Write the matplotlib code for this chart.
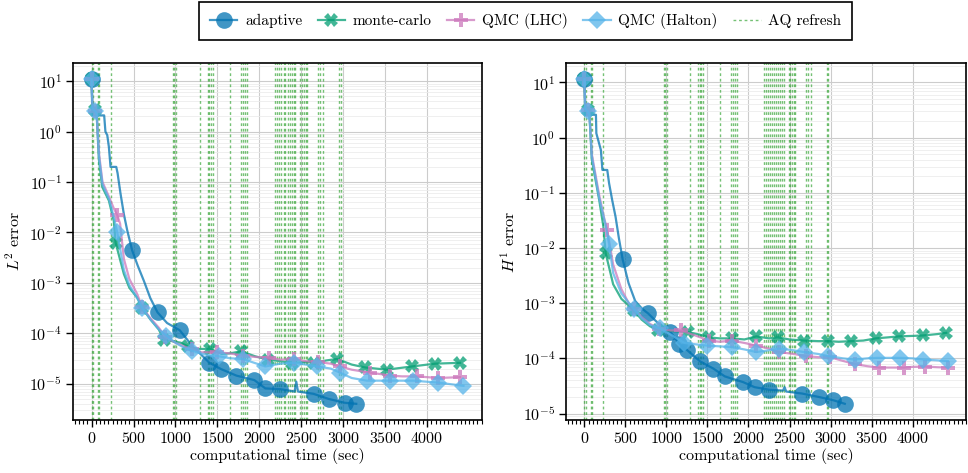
import numpy as np
import matplotlib
matplotlib.use("Agg")
import matplotlib.pyplot as plt
from matplotlib.ticker import MultipleLocator, FixedLocator, LogLocator, NullFormatter

plt.rcParams["font.family"] = "serif"
plt.rcParams["font.serif"] = ["cmr10"]
plt.rcParams["mathtext.fontset"] = "cm"
plt.rcParams["axes.formatter.use_mathtext"] = True
plt.rcParams["font.size"] = 11.5

# ---------------- L2 error (left) ----------------
l2_ad_t = [0, 8, 15, 150, 165, 187, 206, 226, 294, 310, 325, 345, 385, 425, 484, 550, 623, 700, 786, 900,
           1051, 1200, 1405, 1544, 1726, 1940, 2070, 2250, 2420, 2440, 2460, 2647, 2825, 3015, 3155]
l2_ad_e = [11, 2.6, 2.1, 2.1, 1.0, 0.85, 0.5, 0.2, 0.2, 0.15, 0.1, 0.059, 0.023, 0.011, 4.4e-3, 2.2e-3,
           1.1e-3, 5.0e-4, 2.6e-4, 1.6e-4, 1.15e-4, 5.6e-5, 2.6e-5, 1.95e-5, 1.45e-5, 1.18e-5, 8.1e-6,
           7.8e-6, 7.0e-6, 1.1e-5, 7.0e-6, 6.3e-6, 5.0e-6, 4.2e-6, 4.0e-6]
l2_ad_m = [0, 484, 786, 1051, 1405, 1544, 1726, 1940, 2070, 2250, 2647, 2825, 3015, 3155]

l2_mc_t = [0, 10, 40, 60, 87, 127, 206, 265, 286, 385, 450, 544, 603, 700, 800, 861, 960, 1060, 1150,
           1258, 1417, 1550, 1650, 1780, 1950, 2100, 2250, 2389, 2550, 2650, 2800, 2925, 3100, 3262,
           3520, 3818, 4095, 4393]
l2_mc_e = [11, 3.0, 2.7, 2.3, 0.28, 0.08, 0.043, 0.017, 6.3e-3, 1.5e-3, 8.0e-4, 5.1e-4, 3.2e-4, 1.9e-4,
           1.2e-4, 7.5e-5, 7.0e-5, 6.5e-5, 5.5e-5, 4.9e-5, 4.9e-5, 3.9e-5, 4.0e-5, 4.4e-5, 3.5e-5,
           3.0e-5, 2.8e-5, 2.6e-5, 2.7e-5, 2.6e-5, 2.9e-5, 3.1e-5, 2.4e-5, 2.1e-5, 1.9e-5, 2.2e-5,
           2.5e-5, 2.6e-5]
l2_mc_m = [0, 40, 286, 603, 861, 1150, 1417, 1780, 2100, 2389, 2650, 2925, 3262, 3520, 3818, 4095, 4393]

l2_lhc_t = [0, 10, 40, 60, 90, 130, 210, 265, 306, 340, 385, 450, 544, 603, 700, 800, 880, 1000, 1100,
            1198, 1300, 1400, 1500, 1650, 1800, 1950, 2111, 2250, 2409, 2550, 2700, 2850, 2960, 3100,
            3321, 3450, 3560, 3700, 3877, 4000, 4135, 4393]
l2_lhc_e = [11, 3.0, 2.6, 2.4, 0.35, 0.1, 0.05, 0.03, 0.022, 0.015, 3.0e-3, 1.2e-3, 6.0e-4, 3.3e-4,
            2.0e-4, 1.3e-4, 8.5e-5, 6.5e-5, 5.5e-5, 4.8e-5, 4.2e-5, 4.2e-5, 4.2e-5, 4.0e-5, 3.6e-5,
            3.4e-5, 3.3e-5, 3.0e-5, 3.1e-5, 2.8e-5, 2.7e-5, 2.5e-5, 2.2e-5, 1.9e-5, 1.65e-5, 1.55e-5,
            1.45e-5, 1.4e-5, 1.4e-5, 1.35e-5, 1.3e-5, 1.35e-5]
l2_lhc_m = [0, 40, 306, 603, 880, 1198, 1500, 1800, 2111, 2409, 2700, 2960, 3321, 3560, 3877, 4135, 4393]

l2_hal_t = [0, 10, 40, 60, 90, 130, 210, 265, 306, 385, 450, 544, 603, 700, 800, 893, 1000, 1100, 1198,
            1350, 1516, 1650, 1800, 2071, 2250, 2409, 2550, 2687, 2850, 2964, 3100, 3282, 3560, 3837,
            4135, 4433]
l2_hal_e = [11, 2.8, 2.6, 2.3, 0.3, 0.09, 0.045, 0.02, 0.01, 1.8e-3, 9.0e-4, 5.0e-4, 3.2e-4, 1.9e-4,
            1.2e-4, 9.0e-5, 6.5e-5, 5.2e-5, 4.5e-5, 3.8e-5, 3.5e-5, 3.2e-5, 3.1e-5, 2.2e-5, 2.5e-5,
            2.6e-5, 2.4e-5, 2.2e-5, 2.0e-5, 1.65e-5, 1.3e-5, 1.15e-5, 1.15e-5, 1.15e-5, 1.05e-5, 9.1e-6]
l2_hal_m = [0, 40, 306, 603, 893, 1198, 1516, 1800, 2071, 2409, 2687, 2964, 3282, 3560, 3837, 4135, 4433]

# ---------------- H1 error (right) ----------------
h1_ad_t = [0, 8, 15, 140, 145, 200, 219, 278, 300, 338, 379, 420, 466, 538, 618, 700, 777, 900, 1048,
           1156, 1254, 1406, 1573, 1712, 1936, 2075, 2255, 2420, 2440, 2460, 2655, 2854, 3034, 3174]
h1_ad_e = [11.5, 3.0, 2.6, 2.6, 1.2, 0.6, 0.26, 0.26, 0.15, 0.074, 0.037, 0.015, 6.2e-3, 2.3e-3, 1.1e-3,
           8.0e-4, 6.5e-4, 4.3e-4, 3.0e-4, 1.85e-4, 1.4e-4, 8.9e-5, 6.5e-5, 4.7e-5, 3.7e-5, 3.0e-5,
           2.7e-5, 2.6e-5, 3.0e-5, 2.5e-5, 2.3e-5, 2.0e-5, 1.74e-5, 1.5e-5]
h1_ad_m = [0, 466, 777, 1048, 1156, 1254, 1406, 1573, 1712, 1936, 2075, 2255, 2655, 2854, 3034, 3174]

h1_mc_t = [0, 10, 40, 60, 90, 180, 230, 259, 350, 450, 599, 700, 800, 900, 1000, 1100, 1257, 1400, 1517,
           1650, 1796, 1950, 2096, 2250, 2355, 2500, 2674, 2850, 2974, 3100, 3254, 3400, 3553, 3700,
           3832, 4000, 4132, 4300, 4411]
h1_mc_e = [11.5, 3.5, 3.2, 2.8, 0.4, 0.074, 0.025, 8.0e-3, 2.2e-3, 1.2e-3, 7.5e-4, 5.0e-4, 3.8e-4,
           3.3e-4, 3.2e-4, 3.1e-4, 3.0e-4, 2.7e-4, 2.4e-4, 2.3e-4, 2.3e-4, 2.2e-4, 2.5e-4, 2.3e-4,
           2.4e-4, 2.2e-4, 2.1e-4, 2.05e-4, 2.05e-4, 2.0e-4, 2.05e-4, 2.1e-4, 2.3e-4, 2.4e-4, 2.5e-4,
           2.55e-4, 2.6e-4, 2.75e-4, 2.9e-4]
h1_mc_m = [0, 40, 259, 599, 900, 1257, 1517, 1796, 2096, 2355, 2674, 2974, 3254, 3553, 3832, 4132, 4411]

h1_lhc_t = [0, 10, 40, 60, 90, 180, 240, 278, 350, 450, 540, 610, 700, 800, 910, 1050, 1177, 1350, 1517,
            1650, 1796, 1950, 2096, 2250, 2375, 2550, 2695, 2850, 2994, 3150, 3293, 3450, 3593, 3750,
            3892, 4000, 4152, 4300, 4431]
h1_lhc_e = [11.5, 3.5, 3.2, 2.8, 0.5, 0.09, 0.035, 0.021, 5.0e-3, 1.8e-3, 1.0e-3, 7.8e-4, 5.5e-4,
            4.2e-4, 3.4e-4, 3.2e-4, 3.2e-4, 2.6e-4, 2.1e-4, 2.0e-4, 2.1e-4, 1.9e-4, 1.7e-4, 1.5e-4,
            1.3e-4, 1.2e-4, 1.1e-4, 1.05e-4, 1.05e-4, 9.0e-5, 7.9e-5, 7.2e-5, 6.8e-5, 6.8e-5, 6.8e-5,
            7.0e-5, 7.1e-5, 6.9e-5, 6.8e-5]
h1_lhc_m = [0, 40, 278, 610, 910, 1177, 1517, 1796, 2096, 2375, 2695, 2994, 3293, 3593, 3892, 4152, 4431]

h1_hal_t = [0, 10, 40, 60, 90, 180, 260, 299, 350, 450, 599, 700, 800, 918, 1050, 1218, 1350, 1497,
            1650, 1796, 1950, 2096, 2250, 2375, 2550, 2674, 2850, 2974, 3150, 3293, 3450, 3572, 3700,
            3852, 4000, 4132, 4300, 4431]
h1_hal_e = [11.5, 3.3, 3.0, 2.6, 0.45, 0.08, 0.025, 0.012, 3.5e-3, 1.5e-3, 7.9e-4, 5.3e-4, 4.0e-4,
            3.5e-4, 2.7e-4, 1.9e-4, 1.8e-4, 1.7e-4, 1.65e-4, 1.6e-4, 1.45e-4, 1.3e-4, 1.4e-4, 1.5e-4,
            1.4e-4, 1.3e-4, 1.2e-4, 1.1e-4, 1.0e-4, 9.5e-5, 1.0e-4, 1.02e-4, 1.02e-4, 1.02e-4, 1.0e-4,
            9.5e-5, 9.2e-5, 8.9e-5]
h1_hal_m = [0, 40, 299, 599, 918, 1218, 1497, 1796, 2096, 2375, 2674, 2974, 3293, 3572, 3852, 4132, 4431]

# times at which the adaptive quadrature was refreshed
aq_refresh = [0, 20, 75, 90, 226, 968, 988, 1008, 1290, 1385, 1405, 1425, 1444, 1647, 1786, 1810, 1833,
              1855, 2190, 2210, 2235, 2260, 2290, 2310, 2340, 2365, 2390, 2410, 2430, 2490, 2510, 2530,
              2550, 2570, 2700, 2720, 2760, 2955, 2975]

xticks = [0, 500, 1000, 1500, 2000, 2500, 3000, 3500, 4000]

names = ["adaptive", "monte-carlo", "QMC (LHC)", "QMC (Halton)"]
colors = ["#0173b2", "#029e73", "#cc78bc", "#56b4e9"]
markers = ["o", "X", "P", "D"]
msizes = [12, 10, 10, 9]

l2_runs = [(l2_ad_t, l2_ad_e, l2_ad_m), (l2_mc_t, l2_mc_e, l2_mc_m),
           (l2_lhc_t, l2_lhc_e, l2_lhc_m), (l2_hal_t, l2_hal_e, l2_hal_m)]
h1_runs = [(h1_ad_t, h1_ad_e, h1_ad_m), (h1_mc_t, h1_mc_e, h1_mc_m),
           (h1_lhc_t, h1_lhc_e, h1_lhc_m), (h1_hal_t, h1_hal_e, h1_hal_m)]

fig = plt.figure(figsize=(9.68, 4.73), dpi=100)
ax1 = fig.add_axes([0.0754, 0.112, 0.4226, 0.755])
ax2 = fig.add_axes([0.585, 0.112, 0.413, 0.755])


def draw(ax, runs, ylabel):
    for i, x in enumerate(aq_refresh):
        ax.axvline(x, color="#2ca02c", lw=1.0, ls=(0, (2, 2)), alpha=0.65, zorder=1,
                   label="AQ refresh" if i == 0 else None)
    for (t, e, m), name, c, mk, ms in zip(runs, names, colors, markers, msizes):
        idx = list(np.where(np.isin(t, m))[0])
        ax.plot(t, e, color=c, lw=1.6, alpha=0.75, marker=mk, ms=ms, markevery=idx,
                markeredgewidth=0, label=name, zorder=3)
    ax.set_yscale("log")
    ax.xaxis.set_major_locator(FixedLocator(xticks))
    ax.xaxis.set_minor_locator(MultipleLocator(50))
    ax.yaxis.set_major_locator(LogLocator(base=10, numticks=20))
    ax.yaxis.set_minor_locator(LogLocator(base=10, subs=np.arange(2, 10), numticks=20))
    ax.yaxis.set_minor_formatter(NullFormatter())
    ax.grid(True, which="major", color="#cccccc", lw=0.8, zorder=0)
    ax.grid(True, which="minor", axis="y", color="#ececec", lw=0.6, zorder=0)
    ax.set_axisbelow(True)
    ax.tick_params(which="major", direction="out", length=5, width=1.0, pad=3)
    ax.tick_params(axis="x", which="minor", direction="out", length=3, width=0.8)
    ax.tick_params(axis="y", which="minor", length=0)
    for s in ax.spines.values():
        s.set_linewidth(1.2)
    ax.set_xlabel("computational time (sec)", labelpad=1)
    ax.set_ylabel(ylabel)
    ax.yaxis.set_label_coords(-0.122, 0.5)


draw(ax1, l2_runs, r"$L^2$ error")
draw(ax2, h1_runs, r"$H^1$ error")

h, l = ax1.get_legend_handles_labels()
order = [1, 2, 3, 4, 0]
leg = fig.legend([h[k] for k in order], [l[k] for k in order], loc="upper center",
                 bbox_to_anchor=(0.543, 1.0), ncol=5, fancybox=False, edgecolor="black",
                 framealpha=1, fontsize=11, handlelength=1.8, handletextpad=0.5,
                 columnspacing=1.0, borderpad=0.7, borderaxespad=0.15)
leg.get_frame().set_linewidth(1.2)

fig.savefig("out.png", dpi=100)
